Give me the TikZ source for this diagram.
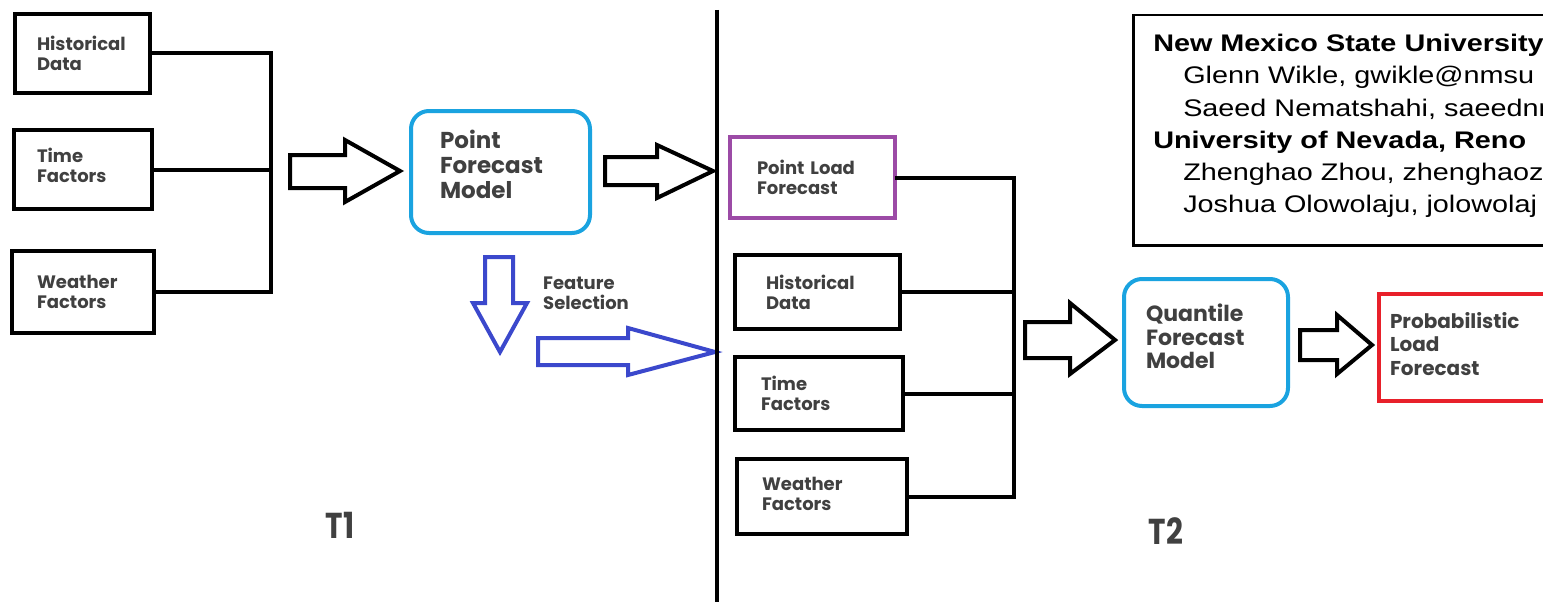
\documentclass[tikz,border=0pt]{standalone}
\usepackage{fontspec}
\setmainfont{Liberation Sans}
\newfontfamily\gothic{Poppins}
\definecolor{txt}{HTML}{404040}
\definecolor{cyanb}{HTML}{1AA3E0}
\definecolor{purp}{HTML}{9C4BA6}
\definecolor{redb}{HTML}{E8202A}
\definecolor{blueA}{HTML}{3B48CC}
\begin{document}
\begin{tikzpicture}[x=1pt,y=-1pt,
  base/.style={line width=4pt, anchor=north west, align=left, text=txt, inner ysep=0pt},
  kbox/.style={base, draw=black, font=\gothic\bfseries\fontsize{18}{20}\selectfont},
  roundbox/.style={base, draw=cyanb, rounded corners=18pt},
  conn/.style={line width=4pt, line join=miter, line cap=rect},
  blockarrow/.style={line width=4pt, line join=miter, draw=black, fill=white},
  bluearrow/.style={line width=4pt, line join=miter, draw=blueA, fill=white},
  lbl/.style={text=txt, font=\gothic\bfseries\fontsize{18}{20}\selectfont, align=left, inner sep=0pt},
  tlbl/.style={text=txt, font=\gothic\bfseries\fontsize{36}{36}\selectfont, inner sep=0pt, xscale=0.82},
  infotxt/.style={anchor=base west, inner sep=0pt, xscale=1.2, font=\fontsize{24}{24}\selectfont},
  infobold/.style={infotxt, font=\bfseries\fontsize{24}{24}\selectfont}
]
\useasboundingbox (0,0) rectangle (1543,602);
\clip (0,0) rectangle (1543,602);

% left input boxes
\node[kbox, minimum width=135, minimum height=79, text width=91, inner xsep=22] (lhd) at (13,12) {Historical\\Data};
\node[kbox, minimum width=138, minimum height=79, text width=92, inner xsep=23, text depth=28pt] (ltf) at (12,128) {Time\\Factors};
\node[kbox, minimum width=142, minimum height=82, text width=92, inner xsep=25] (lwf) at (10,249) {Weather\\Factors};
\coordinate (lbus) at (271,0);
\draw[conn] (lhd.east) -| (lbus |- lwf.east) -- (lwf.east);
\draw[conn] (ltf.east) -- (lbus |- ltf.east);

% arrow to point forecast model
\draw[blockarrow] (290,155) -- (345,155) -- (345,140) -- (400,171) -- (345,202) -- (345,188) -- (290,188) -- cycle;

% point forecast model
\node[roundbox, minimum width=179, minimum height=122, text width=121, inner xsep=29, text depth=66pt,
      font=\gothic\bfseries\fontsize{23}{25}\selectfont] (pfm) at (409,109) {Point\\Forecast\\Model};

\draw[blockarrow] (605,157) -- (657,157) -- (657,145) -- (713,171) -- (657,198) -- (657,185) -- (605,185) -- cycle;

% feature selection arrows
\draw[bluearrow] (485,257) -- (513,257) -- (513,303) -- (527,303) -- (500,352) -- (473,303) -- (485,303) -- cycle;
\draw[bluearrow] (538,338) -- (628,338) -- (628,328) -- (715,352) -- (628,375) -- (628,365) -- (538,365) -- cycle;
\node[lbl, anchor=west] (fs) at (543,293) {Feature\\Selection};

% divider
\coordinate (dtop) at (717,10);
\coordinate (dbot) at (717,610);
\draw[line width=4pt] (dtop) -- (dbot);

% right column boxes
\node[kbox, draw=purp, minimum width=165, minimum height=81, text width=111, inner xsep=27] (plf) at (728,135) {Point Load\\Forecast};
\node[kbox, minimum width=165, minimum height=74, text width=103, inner xsep=31] (rhd) at (733,253) {Historical\\Data};
\node[kbox, minimum width=168, minimum height=73, text width=116, inner xsep=26] (rtf) at (733,355) {Time\\Factors};
\node[kbox, minimum width=170, minimum height=75, text width=120, inner xsep=25, text depth=26pt] (rwf) at (735,457) {Weather\\Factors};
\coordinate (rbus) at (1014,0);
\draw[conn] (plf.east) -| (rbus |- rwf.east) -- (rwf.east);
\draw[conn] (rhd.east) -- (rbus |- rhd.east);
\draw[conn] (rtf.east) -- (rbus |- rtf.east);

\draw[blockarrow] (1025,322) -- (1070,322) -- (1070,303) -- (1115,340) -- (1070,374) -- (1070,358) -- (1025,358) -- cycle;

\node[roundbox, minimum width=164, minimum height=127, text width=120, inner xsep=22, text depth=59pt,
      font=\gothic\bfseries\fontsize{22}{23.5}\selectfont] (qfm) at (1122,277) {Quantile\\Forecast\\Model};

\draw[blockarrow] (1300,330) -- (1337,330) -- (1337,315) -- (1372,345) -- (1337,374) -- (1337,360) -- (1300,360) -- cycle;

\node[base, draw=redb, minimum width=200, minimum height=107, text width=178, inner xsep=11, text depth=55pt,
      font=\gothic\bfseries\fontsize{20}{23.5}\selectfont] (plf2) at (1377,292) {Probabilistic\\Load\\Forecast};

% period labels
\node[tlbl] (t1) at (340,525) {T1};
\node[tlbl] (t2) at (1166,531) {T2};

% affiliation box
\node[draw, line width=2.5pt, anchor=north west, minimum width=440, minimum height=230, inner sep=0pt] (info) at (1132,14) {};
\node[infobold] (l1) at (1153,52) {New Mexico State University};
\node[infotxt] (l2) at (1183,84) {Glenn Wikle, gwikle@nmsu};
\node[infotxt] (l3) at (1183,116) {Saeed Nematshahi, saeednm};
\node[infobold] (l4) at (1153,148) {University of Nevada, Reno};
\node[infotxt] (l5) at (1183,180) {Zhenghao Zhou, zhenghaoz};
\node[infotxt] (l6) at (1183,212) {Joshua Olowolaju, jolowolaj};
\end{tikzpicture}
\end{document}
